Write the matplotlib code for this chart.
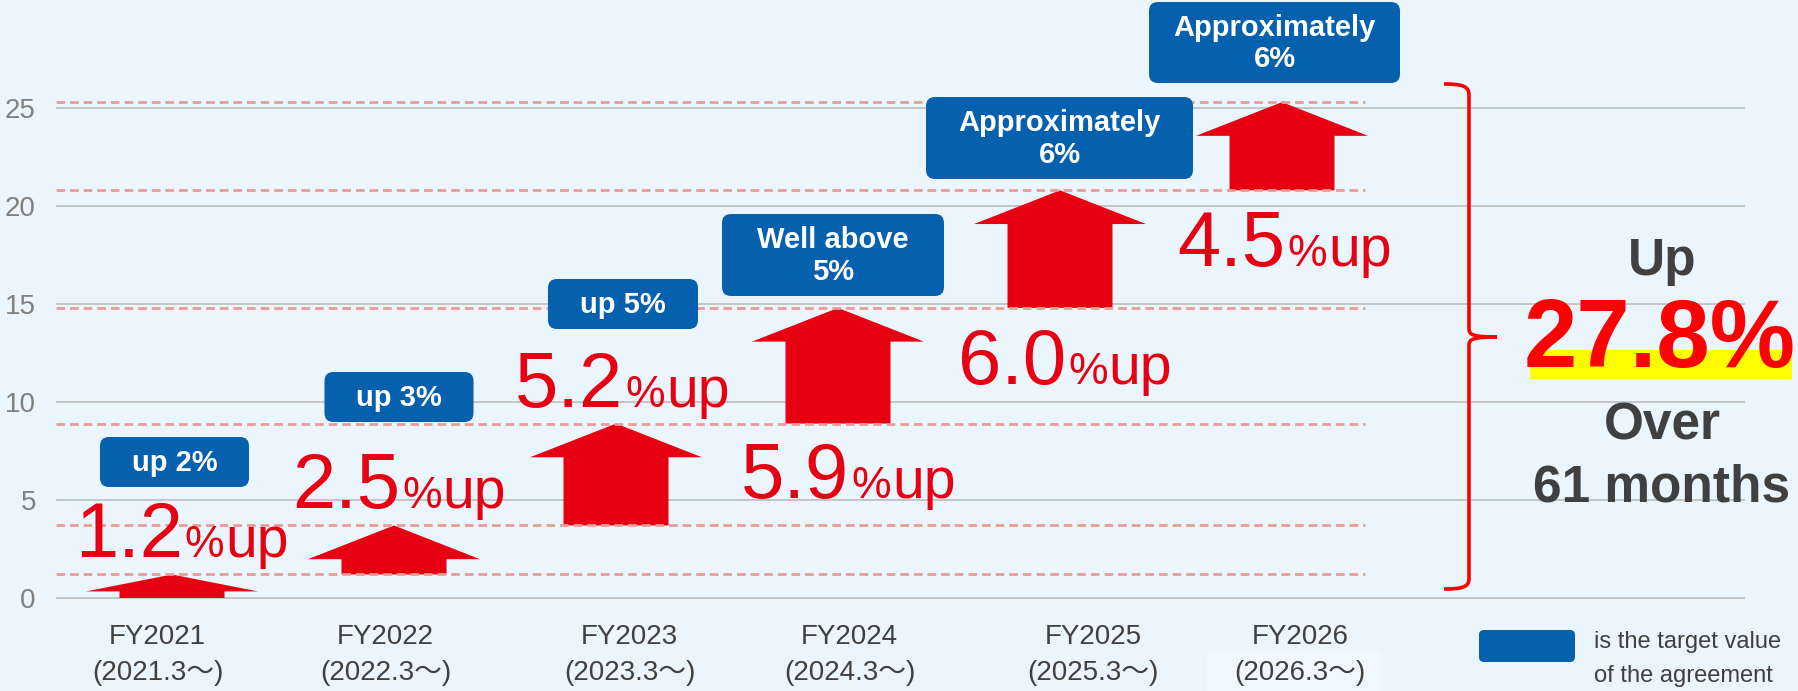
import numpy as np
import matplotlib
matplotlib.use("Agg")
import matplotlib.pyplot as plt
from matplotlib.patches import FancyBboxPatch, Polygon, Rectangle, PathPatch
from matplotlib.path import Path
from matplotlib.transforms import offset_copy

plt.rcParams['lines.scale_dashes'] = False

# ---------------- data ----------------
fiscal_years = ["FY2021", "FY2022", "FY2023", "FY2024", "FY2025", "FY2026"]
periods = ["(2021.3～)", "(2022.3～)", "(2023.3～)", "(2024.3～)", "(2025.3～)", "(2026.3～)"]
increase_pct = [1.2, 2.5, 5.2, 5.9, 6.0, 4.5]
target_labels = ["up 2%", "up 3%", "up 5%", "Well above\n5%",
                 "Approximately\n6%", "Approximately\n6%"]
y_ticks = [0, 5, 10, 15, 20, 25]
total_label = "27.8%"
total_top = "Up"
total_bottom = ["Over", "61 months"]
legend_lines = ["is the target value", "of the agreement"]

cum = np.cumsum(increase_pct)
base = cum - np.array(increase_pct)

# ---------------- styles ----------------
BG = "#EAF5FD"
RED = "#E60012"
BRIGHT_RED = "#FF0000"
BLUE = "#0560AD"
DARK = "#404040"
GRID = "#BDBDBD"
DASH = "#E89C96"
FONT = ["Liberation Sans", "Noto Sans CJK JP", "DejaVu Sans"]

W, H = 1798, 691
fig = plt.figure(figsize=(W / 100, H / 100), dpi=100)
fig.patch.set_facecolor(BG)

# pixel -> data helpers (layout only)
X0_PX, UX = 172.0, 222.0
Y0_PX, UY = 598.0, 19.6
def X(px): return (px - X0_PX) / UX
def Y(py): return (Y0_PX - py) / UY

ax = fig.add_axes([56 / W, 0, (1745 - 56) / W, 1])
ax.set_xlim(X(56), X(1745))
ax.set_ylim(Y(H), Y(0))
ax.set_facecolor(BG)
for s in ax.spines.values():
    s.set_visible(False)
ax.set_xticks([])
ax.set_yticks(y_ticks)
ax.set_yticklabels([str(t) for t in y_ticks])
ax.tick_params(axis='y', length=0, pad=14.5, labelsize=20, labelcolor="#808080")
for lab in ax.get_yticklabels():
    lab.set_fontfamily(FONT)

# gridlines
for t in y_ticks:
    ax.plot([X(56), X(1745)], [t, t], color=GRID, lw=1.2, zorder=1, solid_capstyle='butt')

# subtle lighter panel behind FY2026 period label
ax.add_patch(Rectangle((X(1207), Y(H)), X(1380) - X(1207), Y(652) - Y(H),
                       facecolor="#EEF8FE", edgecolor='none', zorder=0.5))

# arrows
head_hw = 86 / UX
shaft_hw = 52.5 / UX
for i, (b, t) in enumerate(zip(base, cum)):
    L = t - b
    hh = min(1.72, 0.72 * L)
    pts = [(i - shaft_hw, b), (i + shaft_hw, b), (i + shaft_hw, t - hh),
           (i + head_hw, t - hh), (i, t), (i - head_hw, t - hh), (i - shaft_hw, t - hh)]
    ax.add_patch(Polygon(pts, closed=True, facecolor=RED, edgecolor='none', zorder=2))

# dashed level lines
for v in cum:
    ax.plot([X(56), X(1365)], [v, v], color=DASH, lw=2.0, zorder=3,
            linestyle=(0, (6.2, 3.6)), dash_capstyle='butt')

# target boxes
box_cx = [174.5, 399, 623, 833, 1059.5, 1274.5]
box_cy = [462, 397, 304, 255, 138, 42.5]
box_w = [149, 149, 150, 222, 267, 251]
box_h = [50, 50, 50, 82, 82, 81]
for lbl, cx, cy, bw, bh in zip(target_labels, box_cx, box_cy, box_w, box_h):
    x0, x1 = X(cx - bw / 2), X(cx + bw / 2)
    y0, y1 = Y(cy + bh / 2), Y(cy - bh / 2)
    ax.add_patch(FancyBboxPatch((x0, y0), x1 - x0, y1 - y0,
                                boxstyle=f"round,pad=0,rounding_size={9 / UX}",
                                mutation_aspect=UX / UY,
                                facecolor=BLUE, edgecolor='none', zorder=4, clip_on=False))
    ax.text(X(cx), Y(cy) - 0.05, lbl, ha='center', va='center', color='white',
            fontsize=21, fontweight='bold', family=FONT, linespacing=1.15, zorder=5)

# red increase labels: big number + smaller "%" + medium "up"
lab_left = [75, 292, 515, 741, 958, 1177]
lab_base = [557, 508, 407, 498, 384, 266]
renderer = fig.canvas.get_renderer()
for v, lx, by in zip(increase_pct, lab_left, lab_base):
    t1 = ax.text(X(lx), Y(by), f"{v:.1f}", ha='left', va='baseline', color=RED,
                 fontsize=56, family=FONT, zorder=6)
    w1 = t1.get_window_extent(renderer).width
    tr2 = offset_copy(ax.transData, fig=fig, x=w1 + 2, y=0, units='dots')
    t2 = ax.text(X(lx), Y(by), "%", ha='left', va='baseline', color=RED,
                 fontsize=32, family=FONT, zorder=6, transform=tr2)
    w2 = t2.get_window_extent(renderer).width
    tr3 = offset_copy(ax.transData, fig=fig, x=w1 + 2 + w2 + 1, y=0, units='dots')
    ax.text(X(lx), Y(by), "up", ha='left', va='baseline', color=RED,
            fontsize=41, family=FONT, zorder=6, transform=tr3)

# category labels
cat_cx = [157.5, 385.5, 629.7, 849.7, 1093, 1300]
for fy, per, cx in zip(fiscal_years, periods, cat_cx):
    ax.text(X(cx), Y(644), fy, ha='center', va='baseline', fontsize=20,
            color=DARK, family=FONT, zorder=6)
    ax.text(X(cx), Y(680), per, ha='center', va='baseline', fontsize=20,
            color=DARK, family=FONT, zorder=6)

# brace
P = lambda px, py: (X(px), Y(py))
verts = [P(1444, 84),
         P(1462, 84), P(1469, 86), P(1469, 95),
         P(1469, 329),
         P(1469, 335), P(1474, 337), P(1497, 337),
         P(1474, 337), P(1469, 339), P(1469, 345),
         P(1469, 579),
         P(1469, 587), P(1462, 589), P(1444, 589)]
codes = [Path.MOVETO,
         Path.CURVE4, Path.CURVE4, Path.CURVE4,
         Path.LINETO,
         Path.CURVE4, Path.CURVE4, Path.CURVE4,
         Path.CURVE4, Path.CURVE4, Path.CURVE4,
         Path.LINETO,
         Path.CURVE4, Path.CURVE4, Path.CURVE4]
ax.add_patch(PathPatch(Path(verts, codes), fill=False, edgecolor=BRIGHT_RED, lw=2.6,
                       capstyle='butt', joinstyle='miter', zorder=5, clip_on=False))

# total annotation
ax.add_patch(Rectangle((X(1530), Y(379)), X(1792) - X(1530), Y(350) - Y(379),
                       facecolor="#FFFF00", edgecolor='none', zorder=5, clip_on=False))
ax.text(X(1662), Y(275), total_top, ha='center', va='baseline', fontsize=37,
        fontweight='bold', color=DARK, family=FONT, zorder=6)
ax.text(X(1660), Y(367), total_label, ha='center', va='baseline', fontsize=69,
        fontweight='bold', color=BRIGHT_RED, family=FONT, zorder=6)
ax.text(X(1662), Y(440), total_bottom[0], ha='center', va='baseline', fontsize=37,
        fontweight='bold', color=DARK, family=FONT, zorder=6)
ax.text(X(1662), Y(502), total_bottom[1], ha='center', va='baseline', fontsize=37,
        fontweight='bold', color=DARK, family=FONT, zorder=6)

# legend
lx0, lx1 = X(1479), X(1575)
ly0, ly1 = Y(662), Y(630)
ax.add_patch(FancyBboxPatch((lx0, ly0), lx1 - lx0, ly1 - ly0,
                            boxstyle=f"round,pad=0,rounding_size={5 / UX}",
                            mutation_aspect=UX / UY,
                            facecolor=BLUE, edgecolor='none', zorder=4, clip_on=False))
ax.text(X(1594), Y(648), legend_lines[0], ha='left', va='baseline', fontsize=17,
        color=DARK, family=FONT, zorder=6)
ax.text(X(1594), Y(682), legend_lines[1], ha='left', va='baseline', fontsize=17,
        color=DARK, family=FONT, zorder=6)

fig.savefig("out.png", dpi=100, facecolor=BG)
